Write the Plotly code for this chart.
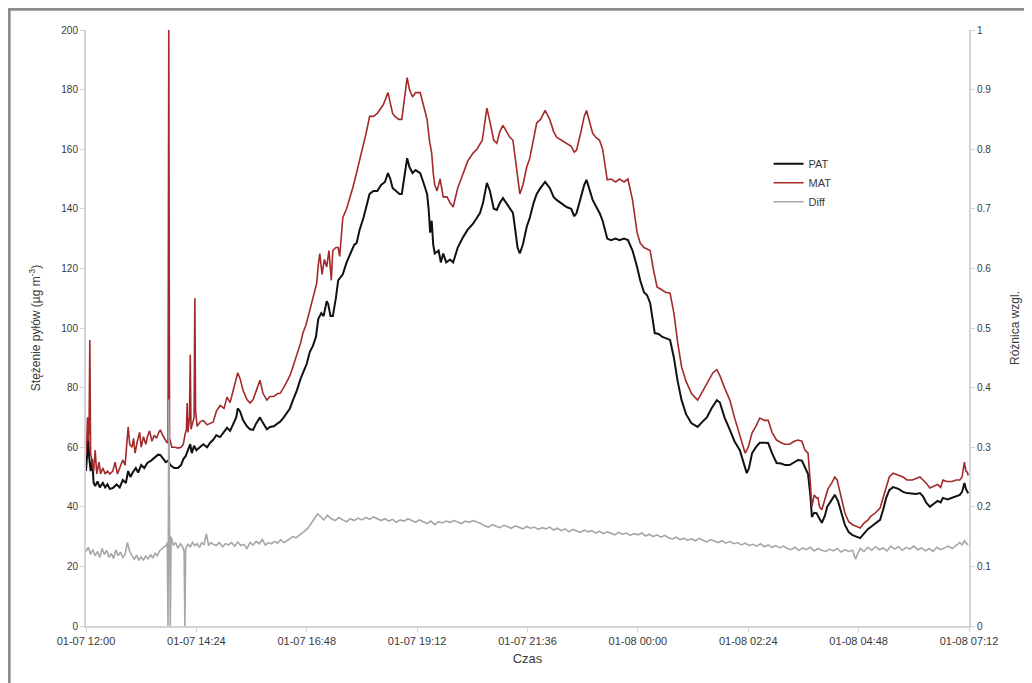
import plotly.graph_objects as go

# ---------------- data ----------------
pat_time = [
 "01-07 12:00","01-07 12:01","01-07 12:02","01-07 12:03","01-07 12:04","01-07 12:06","01-07 12:08","01-07 12:10",
 "01-07 12:12","01-07 12:15","01-07 12:18","01-07 12:22","01-07 12:25","01-07 12:28","01-07 12:31","01-07 12:35",
 "01-07 12:40","01-07 12:44","01-07 12:48","01-07 12:52","01-07 12:55","01-07 12:58","01-07 13:01","01-07 13:05",
 "01-07 13:08","01-07 13:12","01-07 13:16","01-07 13:20","01-07 13:25","01-07 13:30","01-07 13:34","01-07 13:37",
 "01-07 13:41","01-07 13:44","01-07 13:47","01-07 13:50","01-07 13:55","01-07 14:00","01-07 14:04","01-07 14:07",
 "01-07 14:10","01-07 14:13","01-07 14:16","01-07 14:18","01-07 14:21","01-07 14:24","01-07 14:29","01-07 14:33",
 "01-07 14:38","01-07 14:42","01-07 14:46","01-07 14:50","01-07 14:55","01-07 15:00","01-07 15:04","01-07 15:08",
 "01-07 15:12","01-07 15:16","01-07 15:18","01-07 15:21","01-07 15:25","01-07 15:30","01-07 15:34","01-07 15:38",
 "01-07 15:42","01-07 15:47","01-07 15:50","01-07 15:53","01-07 15:56","01-07 16:00","01-07 16:05","01-07 16:10",
 "01-07 16:13","01-07 16:18","01-07 16:22","01-07 16:26","01-07 16:30","01-07 16:35","01-07 16:40","01-07 16:43",
 "01-07 16:48","01-07 16:52","01-07 16:56","01-07 17:00","01-07 17:03","01-07 17:07","01-07 17:10","01-07 17:14",
 "01-07 17:16","01-07 17:19","01-07 17:22","01-07 17:26","01-07 17:29","01-07 17:35","01-07 17:40","01-07 17:45",
 "01-07 17:50","01-07 17:53","01-07 17:57","01-07 18:02","01-07 18:06","01-07 18:10","01-07 18:15","01-07 18:20",
 "01-07 18:25","01-07 18:30","01-07 18:34","01-07 18:37","01-07 18:40","01-07 18:45","01-07 18:49","01-07 18:52",
 "01-07 18:56","01-07 18:59","01-07 19:02","01-07 19:06","01-07 19:10","01-07 19:16","01-07 19:20","01-07 19:25",
 "01-07 19:27","01-07 19:29","01-07 19:31","01-07 19:33","01-07 19:35","01-07 19:40","01-07 19:43","01-07 19:46",
 "01-07 19:50","01-07 19:55","01-07 19:59","01-07 20:05","01-07 20:12","01-07 20:18","01-07 20:25","01-07 20:30",
 "01-07 20:34","01-07 20:38","01-07 20:43","01-07 20:47","01-07 20:52","01-07 20:56","01-07 21:00","01-07 21:04",
 "01-07 21:08","01-07 21:13","01-07 21:17","01-07 21:20","01-07 21:23","01-07 21:26","01-07 21:30","01-07 21:35",
 "01-07 21:39","01-07 21:44","01-07 21:48","01-07 21:53","01-07 21:59","01-07 22:05","01-07 22:10","01-07 22:14",
 "01-07 22:20","01-07 22:27","01-07 22:33","01-07 22:37","01-07 22:40","01-07 22:45","01-07 22:50","01-07 22:53",
 "01-07 22:57","01-07 23:01","01-07 23:05","01-07 23:10","01-07 23:14","01-07 23:18","01-07 23:20","01-07 23:25",
 "01-07 23:31","01-07 23:36","01-07 23:42","01-07 23:47","01-07 23:53","01-07 23:59",
 "01-08 00:03","01-08 00:08","01-08 00:12","01-08 00:16","01-08 00:19","01-08 00:22","01-08 00:27","01-08 00:32",
 "01-08 00:37","01-08 00:42","01-08 00:47","01-08 00:52","01-08 00:57","01-08 01:03","01-08 01:10","01-08 01:18",
 "01-08 01:24","01-08 01:30","01-08 01:36","01-08 01:43","01-08 01:47","01-08 01:53","01-08 02:00","01-08 02:06",
 "01-08 02:13","01-08 02:18","01-08 02:22","01-08 02:25","01-08 02:29","01-08 02:34","01-08 02:39","01-08 02:45",
 "01-08 02:50","01-08 02:55","01-08 03:01","01-08 03:07","01-08 03:12","01-08 03:18","01-08 03:24","01-08 03:29",
 "01-08 03:34","01-08 03:38","01-08 03:42","01-08 03:45","01-08 03:47","01-08 03:50","01-08 03:53","01-08 03:57",
 "01-08 04:00","01-08 04:04","01-08 04:07","01-08 04:12","01-08 04:17","01-08 04:21","01-08 04:26","01-08 04:30",
 "01-08 04:35","01-08 04:40","01-08 04:45","01-08 04:50","01-08 04:55","01-08 05:00","01-08 05:05","01-08 05:10",
 "01-08 05:16","01-08 05:20","01-08 05:24","01-08 05:28","01-08 05:33","01-08 05:40","01-08 05:46","01-08 05:51",
 "01-08 05:58","01-08 06:03","01-08 06:08","01-08 06:12","01-08 06:16","01-08 06:21","01-08 06:26","01-08 06:31",
 "01-08 06:35","01-08 06:38","01-08 06:44","01-08 06:50","01-08 06:55","01-08 07:00","01-08 07:03","01-08 07:06",
 "01-08 07:08","01-08 07:10","01-08 07:11"]
pat_val = [
 52,55,60,63,57,52,56,48, 47,48.5,46.5,48,46.5,47.5,46,46.3, 47.5,46.5,49,48,52,50,51.5,53,
 51.5,54,53,54.7,55.5,56.5,57.5,57.4, 56,55,55.5,54,53,53,54,56, 57,59,61,58,60.5,59,60,61,
 60,61.5,62.5,64,63.4,65,66.5,65.5, 68,70,73,72,69,67,66,65.8, 68,70,68.5,67,66,66.8,67,68,
 68.5,70,71.5,73,75.8,79,83,85, 88,92,94,97,103,105,104,109, 108,104,104,110,116,118,122,125,
 128,128.5,133,137,141,145,146,146, 148,149,152,150,147,146,145,145, 152,157,154,152,153,152,149,145,
 140,132,136,128,125,126,122,125, 122,123,122,127,130.5,133,135,137, 138.6,142,148.7,146,140,139.6,142,143.6,
 142,140,138.6,133,127,125,128,134, 137,142,145,147,149,147,144,143, 142,140.6,140,137.5,138.6,143,148,149.7,
 146,143,141,138.6,136,132,130,129.5, 130,129.5,130,129.5,126,120.5,
 116,112,111,108.4,104,98.3,98,97, 96.5,96,90,82,75.8,71,68,66.8, 68.5,70,73,75.8,75,70,65.8,62,
 59,55,51.3,53,58,60,61.5,61.5, 61.4,58,54.7,54.5,54,54,55,55.7, 55.5,53,51,44,36.6,38,37.9,36,
 34.6,37,40,42,44,42,38,34, 31.5,30.5,30,29.5,31,32.5,33.5,34.5, 35.6,39,43,45.6,46.6,46,45,44.6,
 44.5,44.3,44.6,43.5,41.5,40,41,42, 41.5,43,42.5,43,43.5,44,45,48, 46,45,44.5]

mat_time = [
 "01-07 12:00","01-07 12:01","01-07 12:02","01-07 12:03","01-07 12:04","01-07 12:05","01-07 12:06","01-07 12:08",
 "01-07 12:10","01-07 12:12","01-07 12:14","01-07 12:17","01-07 12:19","01-07 12:22","01-07 12:25","01-07 12:28",
 "01-07 12:31","01-07 12:35","01-07 12:38","01-07 12:41","01-07 12:44","01-07 12:48","01-07 12:51","01-07 12:53",
 "01-07 12:55","01-07 12:57","01-07 13:00","01-07 13:02","01-07 13:04","01-07 13:07","01-07 13:10","01-07 13:12",
 "01-07 13:15","01-07 13:18","01-07 13:20","01-07 13:23","01-07 13:26","01-07 13:29","01-07 13:32","01-07 13:35",
 "01-07 13:37","01-07 13:40","01-07 13:44","01-07 13:46","01-07 13:47","01-07 13:48","01-07 13:49","01-07 13:52",
 "01-07 13:56","01-07 14:00","01-07 14:04","01-07 14:07","01-07 14:09","01-07 14:11","01-07 14:12","01-07 14:13",
 "01-07 14:15","01-07 14:16","01-07 14:17","01-07 14:19","01-07 14:21","01-07 14:22","01-07 14:23","01-07 14:25",
 "01-07 14:29","01-07 14:33","01-07 14:38","01-07 14:42","01-07 14:46","01-07 14:50","01-07 14:55","01-07 15:00",
 "01-07 15:04","01-07 15:08","01-07 15:12","01-07 15:15","01-07 15:18","01-07 15:21","01-07 15:25","01-07 15:30",
 "01-07 15:34","01-07 15:38","01-07 15:42","01-07 15:47","01-07 15:51","01-07 15:56","01-07 16:00","01-07 16:05",
 "01-07 16:10","01-07 16:13","01-07 16:18","01-07 16:22","01-07 16:26","01-07 16:30","01-07 16:35","01-07 16:40",
 "01-07 16:43","01-07 16:47","01-07 16:52","01-07 16:56","01-07 17:01","01-07 17:03","01-07 17:05","01-07 17:08",
 "01-07 17:11","01-07 17:14","01-07 17:17","01-07 17:20","01-07 17:22","01-07 17:26","01-07 17:29","01-07 17:31",
 "01-07 17:35","01-07 17:40","01-07 17:45","01-07 17:48","01-07 17:52","01-07 17:57","01-07 18:02","01-07 18:06",
 "01-07 18:10","01-07 18:15","01-07 18:20","01-07 18:23","01-07 18:28","01-07 18:34","01-07 18:37","01-07 18:40",
 "01-07 18:43","01-07 18:48","01-07 18:52","01-07 18:56","01-07 18:59","01-07 19:02","01-07 19:06","01-07 19:10",
 "01-07 19:16","01-07 19:20","01-07 19:25","01-07 19:28","01-07 19:31","01-07 19:33","01-07 19:35","01-07 19:38",
 "01-07 19:42","01-07 19:46","01-07 19:51","01-07 19:55","01-07 19:59","01-07 20:05","01-07 20:12","01-07 20:18",
 "01-07 20:25","01-07 20:30","01-07 20:37","01-07 20:40","01-07 20:43","01-07 20:48","01-07 20:52","01-07 20:56",
 "01-07 21:00","01-07 21:04","01-07 21:09","01-07 21:13","01-07 21:17","01-07 21:20","01-07 21:23","01-07 21:26",
 "01-07 21:30","01-07 21:35","01-07 21:39","01-07 21:44","01-07 21:48","01-07 21:53","01-07 21:59","01-07 22:05",
 "01-07 22:10","01-07 22:14","01-07 22:20","01-07 22:27","01-07 22:33","01-07 22:37","01-07 22:40","01-07 22:45",
 "01-07 22:50","01-07 22:53","01-07 22:57","01-07 23:01","01-07 23:05","01-07 23:10","01-07 23:14","01-07 23:18",
 "01-07 23:20","01-07 23:25","01-07 23:31","01-07 23:36","01-07 23:42","01-07 23:47","01-07 23:53","01-07 23:59",
 "01-08 00:03","01-08 00:08","01-08 00:12","01-08 00:16","01-08 00:20","01-08 00:25","01-08 00:30","01-08 00:36",
 "01-08 00:42","01-08 00:47","01-08 00:52","01-08 00:57","01-08 01:03","01-08 01:10","01-08 01:18","01-08 01:25",
 "01-08 01:32","01-08 01:38","01-08 01:43","01-08 01:47","01-08 01:53","01-08 02:00","01-08 02:06","01-08 02:13",
 "01-08 02:18","01-08 02:20","01-08 02:24","01-08 02:29","01-08 02:34","01-08 02:39","01-08 02:45","01-08 02:50",
 "01-08 02:55","01-08 03:01","01-08 03:07","01-08 03:12","01-08 03:18","01-08 03:24","01-08 03:29","01-08 03:34",
 "01-08 03:38","01-08 03:42","01-08 03:45","01-08 03:47","01-08 03:50","01-08 03:53","01-08 03:55","01-08 03:57",
 "01-08 04:00","01-08 04:04","01-08 04:08","01-08 04:13","01-08 04:17","01-08 04:20","01-08 04:26","01-08 04:30",
 "01-08 04:35","01-08 04:40","01-08 04:45","01-08 04:50","01-08 04:55","01-08 05:00","01-08 05:03","01-08 05:10",
 "01-08 05:16","01-08 05:20","01-08 05:24","01-08 05:28","01-08 05:33","01-08 05:40","01-08 05:46","01-08 05:51",
 "01-08 05:58","01-08 06:03","01-08 06:08","01-08 06:12","01-08 06:16","01-08 06:21","01-08 06:26","01-08 06:31",
 "01-08 06:35","01-08 06:38","01-08 06:43","01-08 06:50","01-08 06:55","01-08 07:00","01-08 07:03","01-08 07:06",
 "01-08 07:08","01-08 07:10","01-08 07:11"]
mat_val = [
 58,62,70,62,66,96,58,55, 52,59,51,55,51,53,51,52, 51,52,55,51,53,55.7,54,60,
 66.8,61,60,63,58,62,65,60, 63.5,61,63.4,65.5,62,64,63,65, 65.8,64,62,61.4,62,200,63,60,
 60,59.7,60,61,64,66,74.8,65, 70,91,66,68,70,110,72,67, 68.5,69,67.5,68,68.5,72,74,73,
 76.8,75,79,82,85,83,79,76, 74.8,76,79,82.5,78,75.8,77,77, 78,78,80,82,84,87,91,95,
 98.3,101,106,110,115,121,125,118, 123,120.5,126,116,126,127,127,124, 137,140,144,147,151,156,162,166,
 171,171,172,173,175,179,176,172, 171,170,170,178,184,180,177.5,179, 179,175,170,163,158.7,152,148,146,
 150,144,144,142,140.6,147,152,156, 158.7,160,163,168,173.8,168,163,162, 166,168,166,164,163,157,150,145,
 148,154,157,163,168.8,170,173,170, 166,164,163,162,161,159,159.7,165, 171,173,169,165.4,164,163,160,154,
 149.7,150,149,150,149,150,143,132, 128.5,127,126.5,126,120,113.8,113,112, 111.7,105,95,87,82,78,75.8,79,
 82,85,86,84,80,75.8,70,64, 60,58,60,64.8,67,69.8,69,69, 65,62.4,61.5,61,61,62,62.4,62,
 59,58,48,40,44,43,43,40, 39,43,46,48,50,49,42,38, 35,34,33.5,32.9,34.5,35.5,36.6,38,
 39.6,43,47,50,51.3,50.5,50,49, 49,49.5,50,49,48,46.3,47,47.5, 46.5,49,48.5,48.5,49,49,50,55,
 52,51.5,50.5]

diff_time = [
 "01-07 12:00","01-07 12:03","01-07 12:06","01-07 12:09","01-07 12:12","01-07 12:15","01-07 12:18","01-07 12:21",
 "01-07 12:24","01-07 12:27","01-07 12:30","01-07 12:33","01-07 12:36","01-07 12:39","01-07 12:42","01-07 12:45",
 "01-07 12:48","01-07 12:51","01-07 12:54","01-07 12:57","01-07 13:00","01-07 13:03","01-07 13:06","01-07 13:09",
 "01-07 13:12","01-07 13:15","01-07 13:18","01-07 13:21","01-07 13:24","01-07 13:27","01-07 13:30","01-07 13:33",
 "01-07 13:36","01-07 13:39","01-07 13:42","01-07 13:45","01-07 13:46","01-07 13:47","01-07 13:48","01-07 13:49",
 "01-07 13:50","01-07 13:51","01-07 13:54","01-07 13:57","01-07 14:00","01-07 14:03","01-07 14:06","01-07 14:08",
 "01-07 14:09","01-07 14:10","01-07 14:13","01-07 14:16","01-07 14:19","01-07 14:22","01-07 14:25","01-07 14:28",
 "01-07 14:31","01-07 14:34","01-07 14:37","01-07 14:40","01-07 14:43","01-07 14:46","01-07 14:50","01-07 14:54",
 "01-07 14:58","01-07 15:02","01-07 15:06","01-07 15:10","01-07 15:14","01-07 15:18","01-07 15:22","01-07 15:26",
 "01-07 15:30","01-07 15:34","01-07 15:38","01-07 15:42","01-07 15:46","01-07 15:50","01-07 15:54","01-07 15:58",
 "01-07 16:02","01-07 16:06","01-07 16:10","01-07 16:14","01-07 16:18","01-07 16:22","01-07 16:26","01-07 16:30",
 "01-07 16:34","01-07 16:38","01-07 16:42","01-07 16:46","01-07 16:50","01-07 16:54","01-07 16:58","01-07 17:02",
 "01-07 17:06","01-07 17:10","01-07 17:15","01-07 17:20","01-07 17:25","01-07 17:30","01-07 17:35","01-07 17:40",
 "01-07 17:45","01-07 17:50","01-07 17:55","01-07 18:00","01-07 18:05","01-07 18:10","01-07 18:15","01-07 18:20",
 "01-07 18:25","01-07 18:30","01-07 18:35","01-07 18:40","01-07 18:45","01-07 18:50","01-07 18:55","01-07 19:00",
 "01-07 19:05","01-07 19:10","01-07 19:15","01-07 19:20","01-07 19:25","01-07 19:30","01-07 19:35","01-07 19:40",
 "01-07 19:45","01-07 19:50","01-07 19:55","01-07 20:00","01-07 20:05","01-07 20:10","01-07 20:15","01-07 20:20",
 "01-07 20:25","01-07 20:30","01-07 20:35","01-07 20:40","01-07 20:45","01-07 20:50","01-07 20:55","01-07 21:00",
 "01-07 21:05","01-07 21:10","01-07 21:15","01-07 21:20","01-07 21:25","01-07 21:30","01-07 21:35","01-07 21:40",
 "01-07 21:45","01-07 21:50","01-07 21:55","01-07 22:00","01-07 22:05","01-07 22:10","01-07 22:15","01-07 22:20",
 "01-07 22:25","01-07 22:30","01-07 22:35","01-07 22:40","01-07 22:45","01-07 22:50","01-07 22:55","01-07 23:00",
 "01-07 23:05","01-07 23:10","01-07 23:15","01-07 23:20","01-07 23:25","01-07 23:30","01-07 23:35","01-07 23:40",
 "01-07 23:45","01-07 23:50","01-07 23:55","01-08 00:00","01-08 00:05","01-08 00:10","01-08 00:15","01-08 00:20",
 "01-08 00:25","01-08 00:30","01-08 00:35","01-08 00:40","01-08 00:45","01-08 00:50","01-08 00:55","01-08 01:00",
 "01-08 01:05","01-08 01:10","01-08 01:15","01-08 01:20","01-08 01:25","01-08 01:30","01-08 01:35","01-08 01:40",
 "01-08 01:45","01-08 01:50","01-08 01:55","01-08 02:00","01-08 02:05","01-08 02:10","01-08 02:15","01-08 02:20",
 "01-08 02:25","01-08 02:30","01-08 02:35","01-08 02:40","01-08 02:45","01-08 02:50","01-08 02:55","01-08 03:00",
 "01-08 03:05","01-08 03:10","01-08 03:15","01-08 03:20","01-08 03:25","01-08 03:30","01-08 03:35","01-08 03:40",
 "01-08 03:45","01-08 03:50","01-08 03:55","01-08 04:00","01-08 04:05","01-08 04:10","01-08 04:15","01-08 04:20",
 "01-08 04:25","01-08 04:30","01-08 04:35","01-08 04:40","01-08 04:44","01-08 04:47","01-08 04:50","01-08 04:55",
 "01-08 05:00","01-08 05:05","01-08 05:10","01-08 05:15","01-08 05:20","01-08 05:25","01-08 05:30","01-08 05:35",
 "01-08 05:40","01-08 05:45","01-08 05:50","01-08 05:55","01-08 06:00","01-08 06:05","01-08 06:10","01-08 06:15",
 "01-08 06:20","01-08 06:25","01-08 06:30","01-08 06:35","01-08 06:40","01-08 06:45","01-08 06:50","01-08 06:55",
 "01-08 07:00","01-08 07:03","01-08 07:06","01-08 07:09","01-08 07:11"]
diff_val = [
 0.125,0.132,0.12,0.128,0.118,0.125,0.115,0.13, 0.12,0.127,0.115,0.122,0.113,0.128,0.118,0.124,
 0.115,0.12,0.14,0.125,0.118,0.112,0.119,0.11, 0.116,0.11,0.118,0.112,0.12,0.114,0.122,0.118,
 0.126,0.13,0.133,0.135,0.14,0.0,0.38,0.17, 0.0,0.15,0.135,0.14,0.13,0.138,0.133,0.125,
 0.0,0.13,0.137,0.133,0.14,0.135,0.138,0.132, 0.14,0.136,0.155,0.135,0.14,0.137,0.135,0.14,
 0.133,0.138,0.136,0.14,0.134,0.141,0.135,0.137, 0.13,0.14,0.136,0.142,0.138,0.145,0.136,0.14,
 0.138,0.142,0.139,0.145,0.14,0.143,0.146,0.15, 0.148,0.152,0.155,0.16,0.165,0.172,0.18,0.188,
 0.184,0.178,0.186,0.18,0.177,0.182,0.178,0.175, 0.18,0.177,0.181,0.178,0.182,0.179,0.183,0.18,
 0.177,0.18,0.176,0.179,0.174,0.178,0.176,0.18, 0.177,0.174,0.178,0.175,0.172,0.176,0.17,0.175,
 0.173,0.176,0.174,0.177,0.175,0.172,0.176,0.174, 0.177,0.175,0.172,0.168,0.166,0.17,0.167,0.165,
 0.169,0.166,0.164,0.168,0.165,0.163,0.167,0.164, 0.166,0.162,0.165,0.163,0.166,0.161,0.164,0.16,
 0.163,0.158,0.162,0.16,0.157,0.161,0.158,0.16, 0.156,0.159,0.155,0.158,0.156,0.153,0.157,0.154,
 0.156,0.152,0.155,0.153,0.156,0.151,0.154,0.15, 0.153,0.149,0.152,0.148,0.146,0.149,0.145,0.147,
 0.144,0.146,0.143,0.147,0.144,0.141,0.145,0.142, 0.14,0.143,0.139,0.142,0.138,0.14,0.136,0.139,
 0.135,0.137,0.134,0.138,0.133,0.136,0.132,0.135, 0.131,0.134,0.13,0.128,0.132,0.127,0.131,0.128,
 0.132,0.126,0.13,0.127,0.125,0.129,0.126,0.13, 0.124,0.128,0.125,0.127,0.112,0.122,0.13,0.125,
 0.132,0.127,0.133,0.128,0.131,0.126,0.134,0.129, 0.133,0.127,0.132,0.129,0.134,0.128,0.131,0.126,
 0.13,0.125,0.132,0.128,0.131,0.134,0.13,0.135, 0.14,0.136,0.143,0.138,0.136]

YEAR = "2013-"
def ts(lst):
    return [YEAR + t for t in lst]

fig = go.Figure()
fig.add_trace(go.Scatter(x=ts(pat_time), y=pat_val, name="PAT", mode="lines",
                         line=dict(color="#111111", width=2)))
fig.add_trace(go.Scatter(x=ts(mat_time), y=mat_val, name="MAT", mode="lines",
                         line=dict(color="#A3292B", width=1.6)))
fig.add_trace(go.Scatter(x=ts(diff_time), y=diff_val, name="Diff", mode="lines",
                         line=dict(color="#A6A6A6", width=1.6), yaxis="y2"))

axis_col = "#D4D4D4"
txt_col = "#3A3A3A"
FONT = "Liberation Sans, Arial"
tick_font = dict(family=FONT, size=10, color=txt_col)

fig.update_layout(
    width=1032, height=683,
    margin=dict(l=78, r=71, t=22, b=65, autoexpand=False),
    paper_bgcolor="white", plot_bgcolor="white",
    showlegend=True,
    legend=dict(x=0.773, y=0.80, xanchor="left", yanchor="top",
                font=dict(family=FONT, size=11, color=txt_col),
                bgcolor="rgba(0,0,0,0)", itemwidth=30),
    xaxis=dict(
        type="date",
        range=[YEAR + "01-07 12:00", YEAR + "01-08 07:12"],
        tick0=YEAR + "01-07 12:00", dtick=8640000,
        tickformat="%m-%d %H:%M",
        showgrid=False, zeroline=False,
        showline=True, linecolor=axis_col, linewidth=2,
        ticks="outside", ticklen=4, tickcolor=axis_col,
        tickfont=dict(family=FONT, size=11, color=txt_col),
        title=dict(text="Czas", font=dict(family=FONT, size=13, color=txt_col), standoff=8),
    ),
    yaxis=dict(
        range=[0, 200], dtick=20,
        showgrid=False, zeroline=False,
        showline=True, linecolor=axis_col, linewidth=2,
        ticks="outside", ticklen=4, tickcolor=axis_col,
        tickfont=tick_font,
        title=dict(text="Stężenie pyłów (µg m<sup>-3</sup>)",
                   font=dict(family=FONT, size=12, color=txt_col), standoff=18),
    ),
    yaxis2=dict(
        range=[0, 1], dtick=0.1, overlaying="y", side="right",
        showgrid=False, zeroline=False,
        showline=True, linecolor=axis_col, linewidth=2,
        ticks="outside", ticklen=4, tickcolor=axis_col,
        tickfont=tick_font,
        title=dict(text="Różnica wzgl.", font=dict(family=FONT, size=12, color=txt_col), standoff=20),
    ),
)

# outer frame of the chart
fig.add_shape(type="rect", xref="paper", yref="paper",
              x0=-0.087, x1=1.08, y0=-0.11, y1=1.035,
              line=dict(color="#8C8C8C", width=3), fillcolor="rgba(0,0,0,0)", layer="below")

fig.write_html("out.html")
